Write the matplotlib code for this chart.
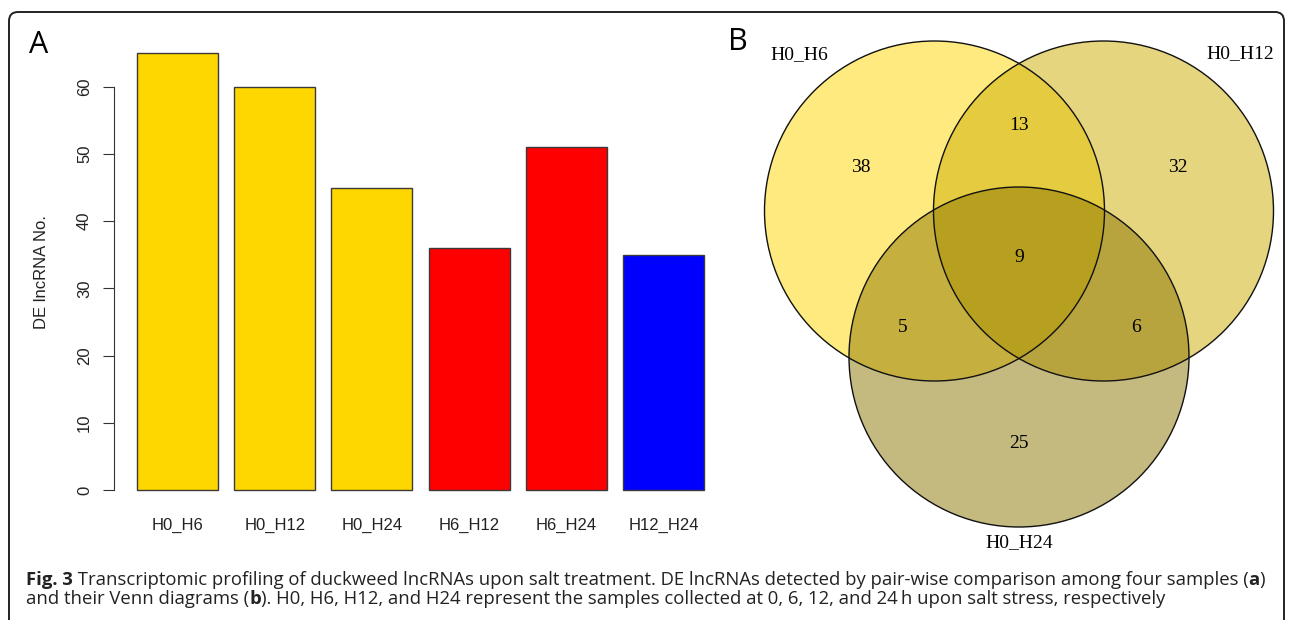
import matplotlib
matplotlib.use('Agg')
import matplotlib.pyplot as plt
from matplotlib import font_manager
from matplotlib.patches import Circle, FancyBboxPatch
import numpy as np

# panel A data
pairs = ['H0_H6', 'H0_H12', 'H0_H24', 'H6_H12', 'H6_H24', 'H12_H24']
de_counts = [65, 60, 45, 36, 51, 35]
bar_colors = ['#FFD700', '#FFD700', '#FFD700', '#FF0000', '#FF0000', '#0000FF']
yticks = [0, 10, 20, 30, 40, 50, 60]

# panel B data (Venn of the H0 comparisons)
venn_sets = ['H0_H6', 'H0_H12', 'H0_H24']
venn_fills = ['#FFD700', '#CDAD00', '#8B7500']
# regions: only1, only2, only3, 1&2, 1&3, 2&3, 1&2&3
venn_counts = [38, 32, 25, 13, 5, 6, 9]

caption1 = [('Fig. 3', 'bold'),
            (' Transcriptomic profiling of duckweed lncRNAs upon salt treatment. '
             'DE lncRNAs detected by pair-wise comparison among four samples (', 'normal'),
            ('a', 'bold'), (')', 'normal')]
caption2 = [('and their Venn diagrams (', 'normal'), ('b', 'bold'),
            ('). H0, H6, H12, and H24 represent the samples collected at 0, 6, 12, '
             'and 24\u2009h upon salt stress, respectively', 'normal')]


def pick_font(names):
    for n in names:
        try:
            font_manager.findfont(n, fallback_to_default=False)
            return n
        except Exception:
            pass
    return 'DejaVu Sans'


sans = pick_font(['Liberation Sans', 'Arial'])
serif = pick_font(['Liberation Serif', 'Times New Roman'])
cap_font = pick_font(['Liberation Sans Narrow', 'Open Sans'])

W, H = 1290, 620
fig = plt.figure(figsize=(W / 100, H / 100), dpi=100)
fig.patch.set_facecolor('white')

# ---- panel A: R-style barplot ----
L, R_, T, B = 114.3, 726.7, 35.7, 507.5
ax = fig.add_axes([L / W, 1 - B / H, (R_ - L) / W, (B - T) / H])
x = 0.7 + 1.2 * np.arange(len(pairs))
ax.bar(x, de_counts, width=1.0, color=bar_colors, edgecolor='#3a3a3a', linewidth=1.0)
ax.set_xlim(-0.08, 7.48)
ax.set_ylim(-2.6, 67.6)
for s in ['top', 'right', 'bottom']:
    ax.spines[s].set_visible(False)
ax.spines['left'].set_bounds(0, 60)
ax.spines['left'].set_color('#333333')
ax.set_yticks(yticks)
ax.set_yticklabels([str(v) for v in yticks], rotation=90, va='center',
                   family=sans, fontsize=12, color='#222222')
ax.set_xticks(x)
ax.set_xticklabels(pairs, family=sans, fontsize=12, color='#222222')
ax.tick_params(axis='x', length=0, pad=7.5)
ax.tick_params(axis='y', length=8, pad=8, color='#333333')
ax.set_ylabel('DE lncRNA No.', family=sans, fontsize=12, color='#222222')
ax.yaxis.set_label_coords(-0.107, 0.5)
ax.set_facecolor('none')

# ---- overlay in pixel coordinates: frame, panel letters, Venn, caption ----
ov = fig.add_axes([0, 0, 1, 1])
ov.set_xlim(0, W)
ov.set_ylim(H, 0)
ov.axis('off')
ov.set_zorder(-1)

frame = FancyBboxPatch((9, 12), 1275, 640, boxstyle='round,pad=0,rounding_size=9',
                       fill=False, edgecolor='#222222', linewidth=1.4)
ov.add_patch(frame)

ov.text(39, 45, 'A', fontsize=22, family=cap_font, ha='center', va='center')
ov.text(738, 42, 'B', fontsize=22, family=cap_font, ha='center', va='center')

ov2 = fig.add_axes([0, 0, 1, 1])
ov2.set_xlim(0, W)
ov2.set_ylim(H, 0)
ov2.axis('off')
ov2.patch.set_visible(False)

r = 170
centers = [(934.5, 211), (1103.5, 211), (1019, 357)]
for (cx, cy), fc in zip(centers, venn_fills):
    ov2.add_patch(Circle((cx, cy), r, facecolor=fc, alpha=0.5, edgecolor='none'))
for (cx, cy) in centers:
    ov2.add_patch(Circle((cx, cy), r, facecolor='none', edgecolor='#111111', linewidth=1.0))

(c1x, c1y), (c2x, c2y), (c3x, c3y) = centers
region_xy = [(c1x - 73.5, c1y - 43), (c2x + 74.5, c2y - 43), (c3x, c3y + 86),
             ((c1x + c2x) / 2, c1y - 86), (903, 328), (1136, 328), (c3x, 258)]
for (px, py), n in zip(region_xy, venn_counts):
    ov2.text(px, py, str(n), family=serif, fontsize=14, ha='center', va='center')
set_xy = [(799, 55), (1240, 54), (1019, 543)]
for (px, py), name in zip(set_xy, venn_sets):
    ov2.text(px, py, name, family=serif, fontsize=14, ha='center', va='center')

# ---- caption with mixed weights ----
fig.canvas.draw()
rend = fig.canvas.get_renderer()


def seg_width(s, weight, size):
    t1 = ov2.text(0, 0, '|' + s + '|', family=cap_font, fontsize=size, fontweight=weight)
    t2 = ov2.text(0, 0, '||', family=cap_font, fontsize=size, fontweight=weight)
    w = t1.get_window_extent(rend).width - t2.get_window_extent(rend).width
    t1.remove()
    t2.remove()
    return w


base = 10
line1_w = sum(seg_width(s, wt, base) for s, wt in caption1)
cap_size = base * (1264 - 26) / line1_w


def draw_line(pieces, y):
    xpos = 26
    for s, wt in pieces:
        ov2.text(xpos, y, s, family=cap_font, fontsize=cap_size, fontweight=wt,
                 ha='left', va='center', color='#222222')
        xpos += seg_width(s, wt, cap_size)


draw_line(caption1, 580)
draw_line(caption2, 599)

fig.savefig('out.png', dpi=100)
